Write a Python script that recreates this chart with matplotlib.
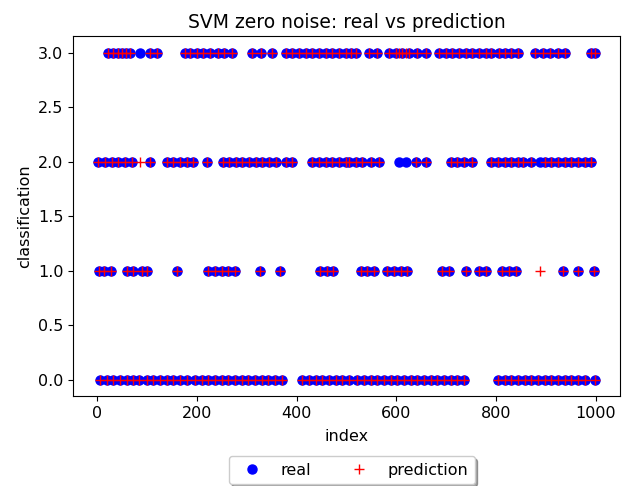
import matplotlib
matplotlib.use("Agg")
import matplotlib.pyplot as plt
import numpy as np

# sample indices for each true class
idx_class0 = [6, 20, 32, 46, 60, 72, 84, 100, 112, 126, 140, 152, 166, 180,
              196, 210, 222, 236, 250, 262, 276, 290, 302, 316, 330, 342, 356, 370,
              411, 425, 439, 451, 465, 479, 491, 505, 521, 535, 549, 561, 575, 589,
              601, 615, 629, 641, 655, 669, 681, 695, 709, 721, 735, 804, 818, 830,
              844, 858, 870, 884, 898, 910, 924, 938, 950, 964, 978, 998]
idx_class1 = [4, 14, 28, 60, 72, 90, 100, 160, 222, 236, 250, 262, 276, 326, 366,
              446, 460, 472, 530, 541, 555, 581, 595, 609, 621, 691, 705, 739, 765,
              779, 811, 825, 839, 934, 964, 996]
idx_class2 = [2, 16, 30, 42, 56, 70, 106, 140, 152, 166, 180, 192, 220, 252, 265,
              279, 291, 305, 319, 331, 345, 359, 379, 391, 431, 445, 459, 471, 485,
              499, 505, 519, 531, 549, 565, 605, 619, 639, 659, 709, 721, 735, 751,
              790, 804, 818, 830, 844, 854, 870, 887, 898, 910, 924, 938, 950, 964,
              978, 990]
idx_class3 = [22, 32, 42, 50, 58, 66, 86, 106, 120, 176, 186, 200, 212, 226, 242,
              255, 271, 311, 329, 351, 379, 391, 405, 419, 431, 445, 459, 471, 485,
              499, 509, 519, 545, 561, 585, 599, 611, 625, 641, 659, 685, 699, 711,
              725, 739, 751, 765, 779, 790, 805, 818, 830, 844, 878, 894, 908, 924,
              938, 990, 998]

# misclassified samples: index, true class, predicted class
mis_idx = [86, 605, 619, 887]
mis_real = [3, 2, 2, 2]
mis_pred = [2, 3, 3, 1]

groups = [idx_class0, idx_class1, idx_class2, idx_class3]
index = np.concatenate([np.array(g) for g in groups])
real = np.concatenate([np.full(len(g), c) for c, g in enumerate(groups)])
pred = real.copy()
for i, r, p in zip(mis_idx, mis_real, mis_pred):
    pred[(index == i) & (real == r)] = p

fig = plt.figure(figsize=(6.3, 4.86), dpi=100)
ax = fig.add_axes([0.116, 0.185, 0.868, 0.74])
ax.plot(index, real, "bo", label="real", markersize=6.5)
ax.plot(index, pred, "r+", label="prediction", markersize=6.5)
ax.set_title("SVM zero noise: real vs prediction", fontsize=13.5)
ax.set_xlabel("index", fontsize=11.5, labelpad=6)
ax.set_ylabel("classification", fontsize=11.5)
ax.tick_params(labelsize=11.5)
ax.legend(loc="upper center", bbox_to_anchor=(0.51, -0.145), ncol=2,
          fancybox=True, shadow=True, fontsize=11.5)
fig.savefig("out.png", dpi=100)
